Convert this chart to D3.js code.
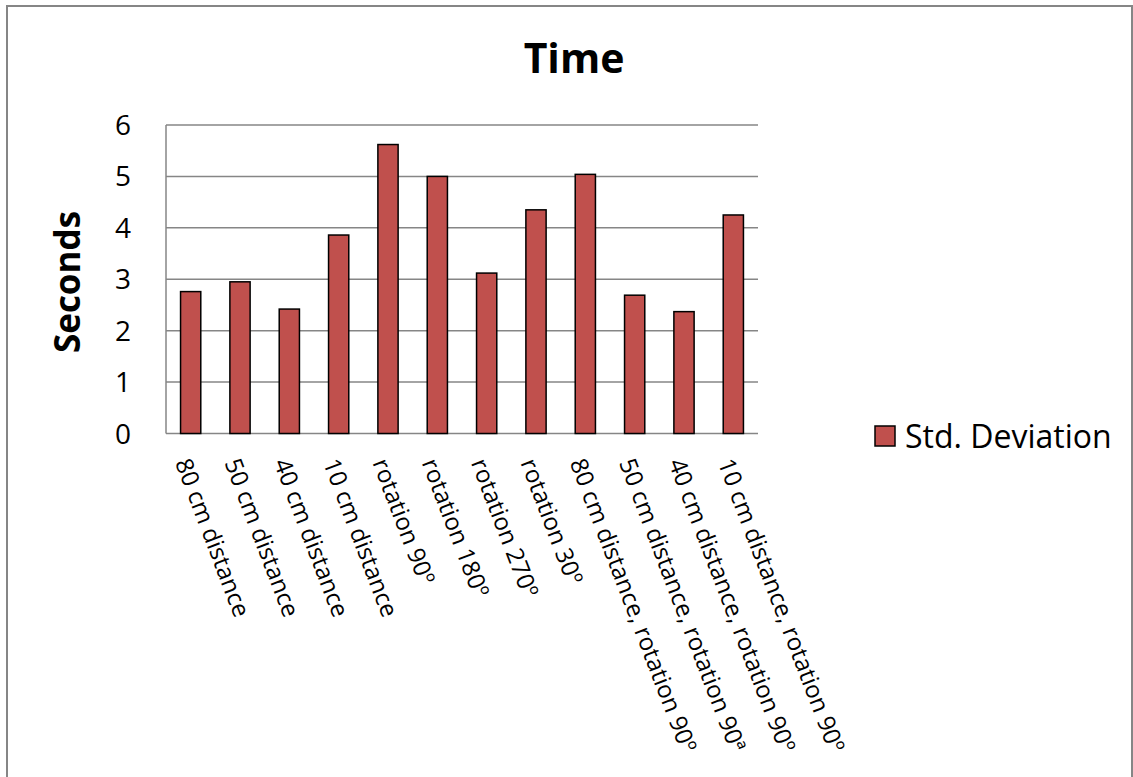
<!DOCTYPE html>
<html>
<head>
<meta charset="utf-8">
<script src="https://cdn.jsdelivr.net/npm/d3@7"></script>
<style>
  html, body { margin: 0; padding: 0; background: #fff; }
  svg { display: block; font-family: "Open Sans", "Noto Sans", sans-serif; }
</style>
</head>
<body>
<svg id="chart" width="1133" height="777"></svg>
<script>
// Test conditions and their standard deviation of completion time (seconds)
const categories = [
  "80 cm distance",
  "50 cm distance",
  "40 cm distance",
  "10 cm distance",
  "rotation 90º",
  "rotation 180º",
  "rotation 270º",
  "rotation 30º",
  "80 cm distance, rotation 90º",
  "50 cm distance, rotation 90ª",
  "40 cm distance, rotation 90º",
  "10 cm distance, rotation 90º"
];
const stdDeviation = [2.76, 2.95, 2.42, 3.86, 5.62, 5.0, 3.12, 4.35, 5.04, 2.69, 2.37, 4.25];
const yTicks = [0, 1, 2, 3, 4, 5, 6];
const seriesName = "Std. Deviation";
const chartTitle = "Time";
const yTitle = "Seconds";

const svg = d3.select("#chart");
const W = 1133, H = 777;

// outer chart frame
svg.append("rect")
  .attr("x", 7).attr("y", 6)
  .attr("width", W - 8).attr("height", H + 10)
  .attr("fill", "#fff")
  .attr("stroke", "#868686")
  .attr("stroke-width", 2);

const plot = { left: 166, right: 758, top: 125, bottom: 433.5 };

const x = d3.scaleBand()
  .domain(categories)
  .range([plot.left, plot.right])
  .paddingInner(0.59)
  .paddingOuter(0.295);

const y = d3.scaleLinear()
  .domain([0, 6])
  .range([plot.bottom, plot.top]);

// horizontal gridlines
svg.append("g")
  .selectAll("line")
  .data(yTicks)
  .join("line")
  .attr("x1", plot.left).attr("x2", plot.right)
  .attr("y1", d => y(d)).attr("y2", d => y(d))
  .attr("stroke", "#868686")
  .attr("stroke-width", 1.5);

// value axis line
svg.append("line")
  .attr("x1", plot.left).attr("x2", plot.left)
  .attr("y1", plot.top).attr("y2", plot.bottom)
  .attr("stroke", "#868686")
  .attr("stroke-width", 1.5);

// y tick labels
svg.append("g")
  .selectAll("text")
  .data(yTicks)
  .join("text")
  .attr("x", 131)
  .attr("y", d => y(d))
  .attr("dy", "0.36em")
  .attr("text-anchor", "end")
  .attr("font-size", 28)
  .attr("fill", "#000")
  .text(d => d);

// bars
svg.append("g")
  .selectAll("rect")
  .data(stdDeviation)
  .join("rect")
  .attr("x", (d, i) => x(categories[i]))
  .attr("y", d => y(d))
  .attr("width", x.bandwidth())
  .attr("height", d => y(0) - y(d))
  .attr("fill", "#C0504D")
  .attr("stroke", "#000")
  .attr("stroke-width", 1.5);

// rotated category labels
svg.append("g")
  .selectAll("text")
  .data(categories)
  .join("text")
  .attr("transform", d => `translate(${x(d) + x.bandwidth() / 2 - 8},${plot.bottom + 26}) rotate(69)`)
  .attr("text-anchor", "start")
  .attr("dy", "0.35em")
  .attr("font-size", 24)
  .attr("fill", "#000")
  .text(d => d);

// chart title
svg.append("text")
  .attr("x", 574).attr("y", 73)
  .attr("text-anchor", "middle")
  .attr("font-size", 41)
  .attr("font-weight", "bold")
  .attr("fill", "#000")
  .text(chartTitle);

// y axis title
svg.append("text")
  .attr("transform", `translate(80,282) rotate(-90)`)
  .attr("text-anchor", "middle")
  .attr("font-size", 35)
  .attr("font-weight", "bold")
  .attr("fill", "#000")
  .text(yTitle);

// legend
const legend = svg.append("g").attr("transform", "translate(875,426)");
legend.append("rect")
  .attr("width", 20).attr("height", 20)
  .attr("fill", "#C0504D")
  .attr("stroke", "#000")
  .attr("stroke-width", 1.5);
legend.append("text")
  .attr("x", 30).attr("y", 10)
  .attr("dy", "0.36em")
  .attr("font-size", 32)
  .attr("fill", "#000")
  .text(seriesName);
</script>
</body>
</html>
